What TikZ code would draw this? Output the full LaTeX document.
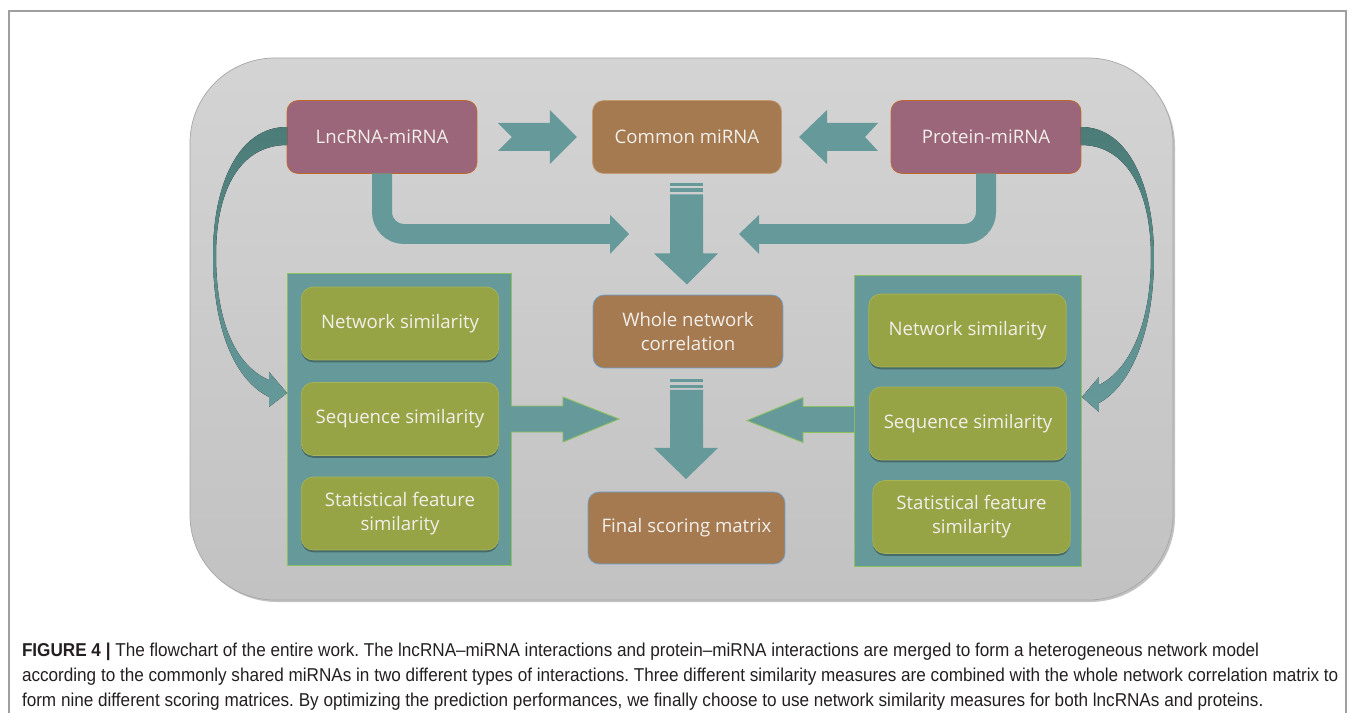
\documentclass[tikz,border=0pt]{standalone}
\usepackage{fontspec}
\usepackage{tikz}
\usetikzlibrary{shadows}
\newfontfamily\boxfont{Open Sans}
\newfontfamily\capfont[FakeStretch=0.92]{Liberation Sans}
\frenchspacing
\definecolor{lncpink}{HTML}{9C667A}
\definecolor{pinkedge}{HTML}{C0672E}
\definecolor{mirbrown}{HTML}{A57A50}
\definecolor{brownedge}{HTML}{C29A74}
\definecolor{blueedge}{HTML}{6C9FD0}
\definecolor{flowteal}{HTML}{66999A}
\definecolor{darkteal}{HTML}{4B7C78}
\definecolor{simolive}{HTML}{97A446}
\definecolor{oliveedge}{HTML}{A7B457}
\definecolor{panelgreen}{HTML}{8DC05E}
\definecolor{boxtext}{HTML}{F2EFEA}
\definecolor{captext}{HTML}{231F20}

\begin{document}
\begin{tikzpicture}[x=0.02cm, y=-0.02cm,
  every node/.style={inner sep=0pt, outer sep=0pt, align=center},
  pairbox/.style={draw=pinkedge, fill=lncpink, rounded corners=0.22cm, minimum width=3.8cm, minimum height=1.46cm, text=boxtext, font=\boxfont\fontsize{10.6}{13.7}\selectfont},
  mirbox/.style={draw=brownedge, fill=mirbrown, rounded corners=0.22cm, minimum width=3.78cm, minimum height=1.46cm, text=boxtext, font=\boxfont\fontsize{10.6}{13.7}\selectfont},
  simbox/.style={draw=oliveedge, fill=simolive, rounded corners=0.24cm, minimum width=3.95cm, minimum height=1.46cm, text=boxtext, font=\boxfont\fontsize{10.6}{13.7}\selectfont, drop shadow={shadow xshift=0pt, shadow yshift=-1.3pt, opacity=0.3, fill=black}},
  panel/.style={draw=panelgreen, fill=flowteal, line width=0.5pt},
  flowarrow/.style={fill=flowteal},
  edgearrow/.style={fill=flowteal, draw=panelgreen, line width=0.5pt},
  pipe/.style={draw=flowteal, line width=0.4cm, rounded corners=0.44cm},
  bentarrow/.style={top color=darkteal, bottom color=flowteal, draw=none},
  capline/.style={anchor=base west, text=captext, font=\capfont\fontsize{10.6}{12}\selectfont}]
\useasboundingbox (0,0) rectangle (1357,713);

\draw[gray!75, line width=0.6pt] (9,730) -- (9,11) -- (1346,11) -- (1346,730);
\fill[black!24] (192,61) [rounded corners=1.7cm] rectangle (1175,602);
\draw[top color=black!17, bottom color=black!24, draw=black!35, line width=0.4pt, rounded corners=1.7cm] (190,58) rectangle (1173,600);

\node[pairbox] (lnc) at (382,137) {LncRNA-miRNA};
\node[mirbox] (common) at (687,137) {Common miRNA};
\node[pairbox] (prot) at (986,137) {Protein-miRNA};
\node[mirbox, draw=blueedge, minimum width=3.8cm] (whole) at (688,331.5) {Whole network\\correlation};
\node[mirbox, draw=blueedge, minimum width=3.94cm, minimum height=1.44cm] (final) at (686.5,528) {Final scoring matrix};

\node[panel, minimum width=4.48cm, minimum height=5.84cm] (lpanel) at (399,419) {};
\node[simbox] (lnet) at (400,323.5) {Network similarity};
\node[simbox] (lseq) at (400,419) {Sequence similarity};
\node[simbox] (lstat) at (400,513.5) {Statistical feature\\similarity};

\node[panel, minimum width=4.54cm, minimum height=5.82cm] (rpanel) at (967.5,420.5) {};
\node[simbox] (rnet) at (967.5,330.5) {Network similarity};
\node[simbox] (rseq) at (968,423.5) {Sequence similarity};
\node[simbox] (rstat) at (971.5,517) {Statistical feature\\similarity};

\begin{scope}[shift={(lnc.east)}]
\fill[flowarrow] (21,-14) -- (73,-14) -- (73,-27) -- (100,0) -- (73,27) -- (73,14) -- (21,14) -- (35,0) -- cycle;
\end{scope}
\begin{scope}[shift={(prot.west)}]
\fill[flowarrow] (-13,-14) -- (-64,-14) -- (-64,-27) -- (-92,0) -- (-64,27) -- (-64,14) -- (-13,14) -- (-26,0) -- cycle;
\end{scope}

\draw[pipe] (lnc.south) |- (611,234);
\fill[flowarrow] (610,215) -- (629,234) -- (610,254) -- cycle;
\draw[pipe] (prot.south) |- (758,234);
\fill[flowarrow] (759,215) -- (739,234) -- (759,254) -- cycle;

\begin{scope}[shift={(common.south)}]
\fill[flowarrow] (-17,10) rectangle (16,13);
\fill[flowarrow] (-17,15) rectangle (16,19);
\fill[flowarrow] (-17,21) -- (16,21) -- (16,80) -- (31,80) -- (0,111) -- (-33,80) -- (-17,80) -- cycle;
\end{scope}
\begin{scope}[shift={(whole.south)}]
\fill[flowarrow] (-18,11) rectangle (15,14);
\fill[flowarrow] (-18,17) rectangle (15,20);
\fill[flowarrow] (-18,22) -- (15,22) -- (15,80) -- (30,80) -- (-2,111) -- (-34,80) -- (-18,80) -- cycle;
\end{scope}

\begin{scope}[shift={(lpanel.east)}]
\draw[edgearrow] (0,-13) -- (52,-13) -- (52,-22) -- (108,0) -- (52,23) -- (52,13) -- (0,13);
\end{scope}
\begin{scope}[shift={(rpanel.west)}]
\draw[edgearrow] (0,-14) -- (-51,-14) -- (-51,-23) -- (-107,0) -- (-51,22) -- (-51,12) -- (0,12);
\end{scope}

\begin{scope}[shift={(lnc.west)}]
\fill[bentarrow] (0,-10) .. controls (-49,-10) and (-74,48) .. (-74,118) .. controls (-74,193) and (-52,243) .. (-18,260)
  -- (-18,270) -- (0,256) -- (-18,235) -- (-18,243)
  .. controls (-47,231) and (-71,193) .. (-71,118) .. controls (-71,53) and (-47,8) .. (0,8) -- cycle;
\end{scope}
\begin{scope}[shift={(prot.east)}]
\fill[bentarrow] (0,-10) .. controls (47,-10) and (73,48) .. (73,120) .. controls (73,193) and (51,248) .. (18,266)
  -- (18,275) -- (1,260) -- (18,240) -- (18,248)
  .. controls (45,235) and (70,193) .. (70,120) .. controls (70,53) and (45,8) .. (0,8) -- cycle;
\end{scope}

\node[capline] (cap1) at (22,656) {\textbf{FIGURE 4 |} The flowchart of the entire work. The lncRNA–miRNA interactions and protein–miRNA interactions are merged to form a heterogeneous network model};
\node[capline] (cap2) at (22,681) {according to the commonly shared miRNAs in two different types of interactions. Three different similarity measures are combined with the whole network correlation matrix to};
\node[capline] (cap3) at (22,706) {form nine different scoring matrices. By optimizing the prediction performances, we finally choose to use network similarity measures for both lncRNAs and proteins.};
\end{tikzpicture}
\end{document}
